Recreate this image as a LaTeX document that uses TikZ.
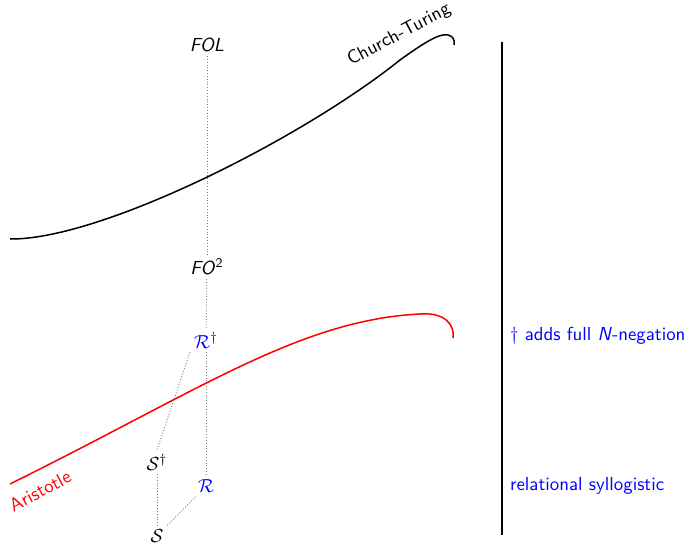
\documentclass[tikz,border=0pt]{standalone}
\renewcommand\familydefault{\sfdefault}
\begin{document}
\begin{tikzpicture}[x=0.53pt,y=-0.53pt,
  lbl/.style={inner sep=2pt},
  blu/.style={text=blue},
  dots/.style={densely dotted, gray, line width=0.5pt},
  curve/.style={line width=0.8pt}]
\useasboundingbox (0,0) rectangle (688,544);
% nodes
\node[lbl] (fol) at (207,45) {\textit{FOL}};
\node[lbl] (fo2) at (207,267) {\textit{FO}\textsuperscript{2}};
\node[lbl,blu] (rd) at (206,340) {$\mathcal{R}^\dagger$};
\node[lbl,blu] (r) at (206,486) {$\mathcal{R}$};
\node[lbl] (sd) at (157,462) {$\mathcal{S}^\dagger$};
\node[lbl] (s) at (157,536) {$\mathcal{S}$};
% dotted connections
\draw[dots] (fol) -- (fo2);
\draw[dots] (fo2) -- (rd);
\draw[dots] ([xshift=0.5]rd.south) -- ([xshift=0.5]r.north);
\draw[dots] (rd.south west) -- (sd.north);
\draw[dots] (sd) -- (s);
\draw[dots] (s) -- (r);
% vertical rule
\coordinate (vt) at (502,42);
\coordinate (vb) at (502,535);
\draw[line width=0.6pt] (vt) -- (vb);
% right labels
\node[lbl,blu,anchor=west] (neg) at (506,336) {$\dagger$ adds full \textit{N}-negation};
\node[lbl,blu,anchor=west] (rel) at (506,486) {relational syllogistic};
% Church-Turing curve
\draw[curve] (10,239) .. controls (100,240) and (300,140) .. (400,60)
  .. controls (425,42) and (440,33) .. (448,35)
  .. controls (453,36) and (455,40) .. (454,45);
\node[lbl,rotate=28,inner sep=0pt] (ct) at (399,35) {Church-Turing};
% Aristotle curve
\draw[curve,red] (10,484) .. controls (200,390) and (300,320) .. (420,314)
  .. controls (445,312) and (455,325) .. (453,338);
\node[lbl,rotate=28,text=red,inner sep=0pt] (ar) at (40,491) {Aristotle};
\end{tikzpicture}
\end{document}
